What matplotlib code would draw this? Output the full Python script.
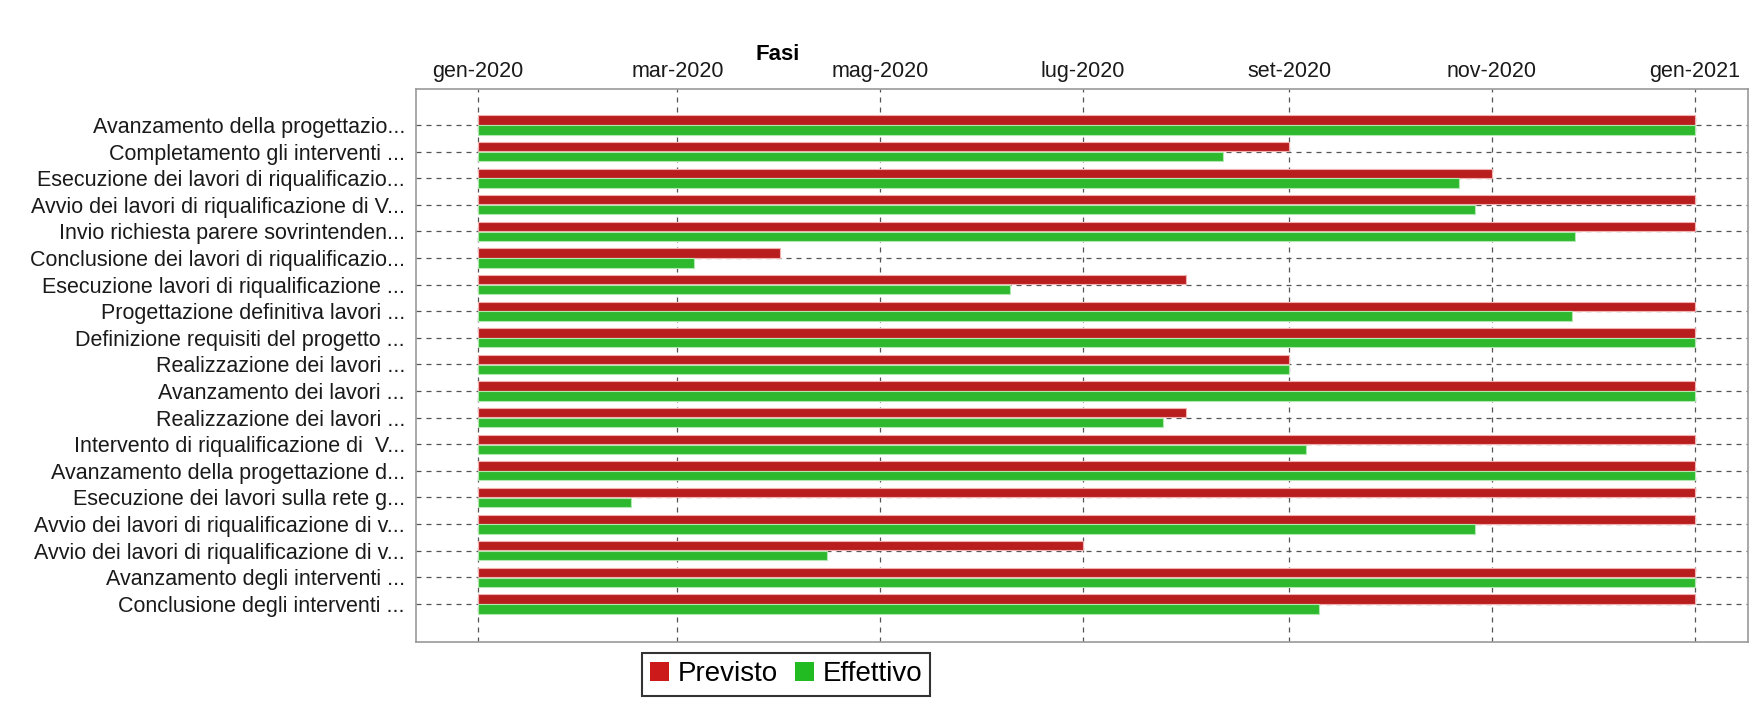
import matplotlib
matplotlib.use('Agg')
import matplotlib.pyplot as plt
import matplotlib.dates as mdates
import numpy as np
import pandas as pd
from matplotlib.patches import Patch

categories = [
    "Avanzamento della progettazio...",
    "Completamento gli interventi ...",
    "Esecuzione dei lavori di riqualificazio...",
    "Avvio dei lavori di riqualificazione di V...",
    "Invio richiesta parere sovrintenden...",
    "Conclusione dei lavori di riqualificazio...",
    "Esecuzione lavori di riqualificazione ...",
    "Progettazione definitiva lavori ...",
    "Definizione requisiti del progetto ...",
    "Realizzazione dei lavori ...",
    "Avanzamento dei lavori ...",
    "Realizzazione dei lavori ...",
    "Intervento di riqualificazione di  V...",
    "Avanzamento della progettazione d...",
    "Esecuzione dei lavori sulla rete g...",
    "Avvio dei lavori di riqualificazione di v...",
    "Avvio dei lavori di riqualificazione di v...",
    "Avanzamento degli interventi ...",
    "Conclusione degli interventi ...",
]

start_dates = ["2020-01-01"] * 19

previsto_end = [
    "2021-01-01", "2020-09-01", "2020-11-01", "2021-01-01", "2021-01-01",
    "2020-04-01", "2020-08-01", "2021-01-01", "2021-01-01", "2020-09-01",
    "2021-01-01", "2020-08-01", "2021-01-01", "2021-01-01", "2021-01-01",
    "2021-01-01", "2020-07-01", "2021-01-01", "2021-01-01",
]

effettivo_end = [
    "2021-01-01", "2020-08-12", "2020-10-22", "2020-10-27", "2020-11-26",
    "2020-03-06", "2020-06-09", "2020-11-25", "2021-01-01", "2020-09-01",
    "2021-01-01", "2020-07-25", "2020-09-06", "2021-01-01", "2020-02-16",
    "2020-10-27", "2020-04-15", "2021-01-01", "2020-09-10",
]

tick_dates = ["2020-01-01", "2020-03-01", "2020-05-01", "2020-07-01",
              "2020-09-01", "2020-11-01", "2021-01-01"]
tick_labels = ["gen-2020", "mar-2020", "mag-2020", "lug-2020",
               "set-2020", "nov-2020", "gen-2021"]
series_names = ["Previsto", "Effettivo"]
title = "Fasi"

RED = "#b81e1e"
GREEN = "#2eb82e"
RED_LEG = "#cc1a1a"
GREEN_LEG = "#22bb22"

plt.rcParams['font.family'] = ['Liberation Sans', 'DejaVu Sans']

W, H = 1750, 704
fig = plt.figure(figsize=(W / 100, H / 100), dpi=100)
ax = fig.add_axes([416 / W, 1 - 642 / H, (1748 - 416) / W, (642 - 89) / H])

start = mdates.date2num(pd.to_datetime(start_dates))
p_end = mdates.date2num(pd.to_datetime(previsto_end))
e_end = mdates.date2num(pd.to_datetime(effettivo_end))
y = np.arange(len(categories))

ax.barh(y - 0.185, p_end - start, left=start, height=0.35, color=RED,
        edgecolor="#f2b0b0", linewidth=0.8, zorder=3)
ax.barh(y + 0.185, e_end - start, left=start, height=0.35, color=GREEN,
        edgecolor="#b0e8b0", linewidth=0.8, zorder=3)

ax.set_ylim(len(categories) - 1 + 1.43, -1.35)
ax.set_yticks(y)
ax.set_yticklabels(categories, fontsize=15.5, color="#1a1a1a")
ax.tick_params(axis='y', length=0, pad=8)

ticks = mdates.date2num(pd.to_datetime(tick_dates))
ax.xaxis.tick_top()
ax.set_xticks(ticks)
ax.set_xticklabels(tick_labels, fontsize=15.5, color="#1a1a1a")
ax.tick_params(axis='x', length=0, pad=5)
ax.set_xlim(ticks[0] - 18.6, ticks[0] + 382)

ax.grid(True, linestyle=(0, (4, 4)), color="#555555", linewidth=0.9)
ax.set_axisbelow(True)
for s in ax.spines.values():
    s.set_color("#999999")
    s.set_linewidth(1.2)

fig.text(778 / W, 1 - 54 / H, title, ha='center', va='center',
         fontsize=16, fontweight='bold')

handles = [Patch(facecolor=RED_LEG, label=series_names[0]),
           Patch(facecolor=GREEN_LEG, label=series_names[1])]
leg = fig.legend(handles=handles, loc='upper center',
                 bbox_to_anchor=(786 / W, 1 - 653 / H), ncol=2, fontsize=20,
                 frameon=True, fancybox=False, edgecolor='black',
                 handlelength=0.7, handleheight=0.7, handletextpad=0.3,
                 columnspacing=0.6, borderpad=0.3, borderaxespad=0)
leg.get_frame().set_linewidth(1.5)

fig.savefig('out.png', dpi=100)
